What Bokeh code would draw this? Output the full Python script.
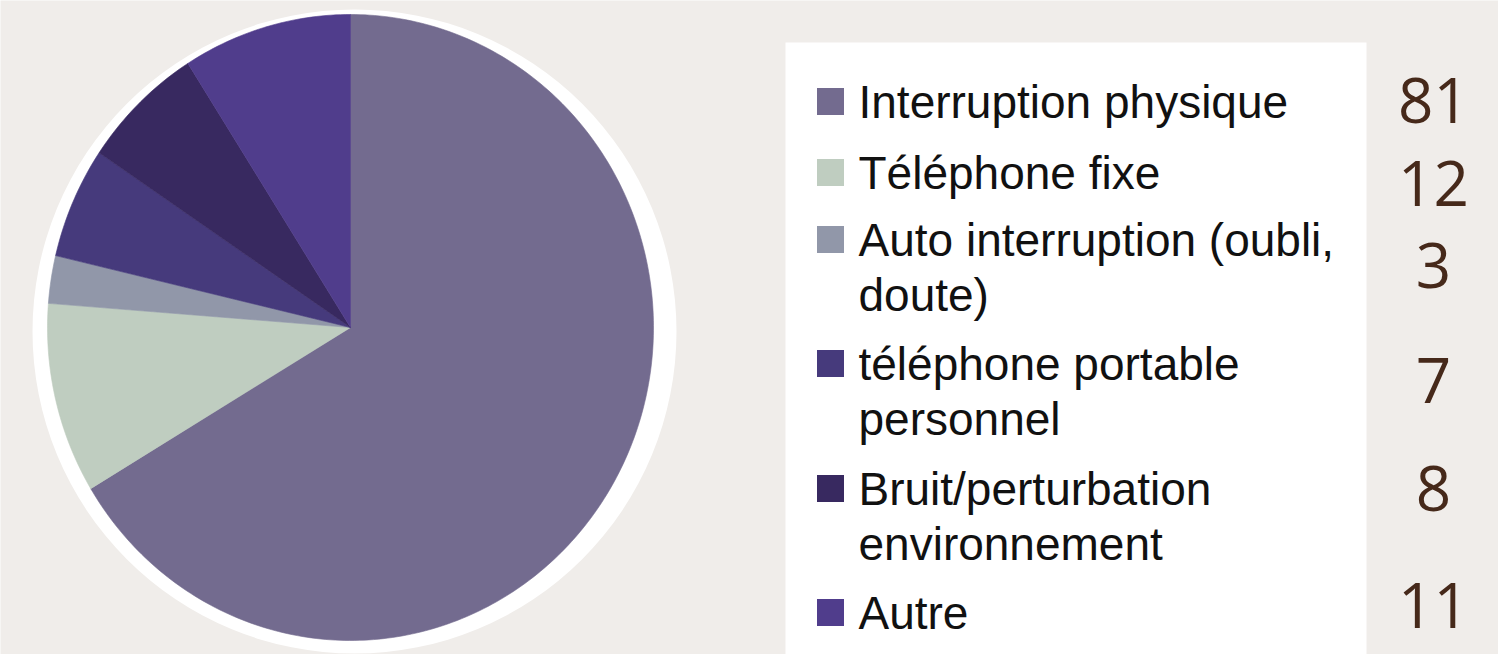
import numpy as np
from bokeh.plotting import figure
from bokeh.models import Range1d
from bokeh.core.properties import value
from bokeh.embed import file_html
from bokeh.resources import INLINE

# ---- data ----
categories = [
    "Interruption physique",
    "Téléphone fixe",
    "Auto interruption (oubli,\ndoute)",
    "téléphone portable\npersonnel",
    "Bruit/perturbation\nenvironnement",
    "Autre",
]
counts = [81, 12, 3, 7, 8, 11]
count_labels = ["81", "12", "3", "7", "8", "11"]
colors = ["#736b8f", "#bfcdc0", "#9197a9", "#463a7c", "#382960", "#503d8c"]

W, H = 1498, 654
BG = "#f0edea"

p = figure(width=W, height=H, output_backend="svg", toolbar_location=None,
           x_range=Range1d(0, W), y_range=Range1d(0, H),
           min_border=0, background_fill_color=BG, border_fill_color=BG)
p.axis.visible = False
p.grid.visible = False
p.outline_line_color = None

def Y(y_img):
    return H - y_img

# white halo behind pie
p.ellipse(x=[354], y=[Y(331)], width=644, height=644, fill_color="white", line_color=None)

# pie slices (slightly elliptical, as in the source), from 12 o'clock clockwise
cx, cy, rx, ry = 350, Y(327), 303, 313
vals = np.array(counts, dtype=float)
total = vals.sum()
cum_after = np.cumsum(vals) / total
cum_before = cum_after - vals / total
xs, ys = [], []
for a0, a1 in zip(cum_before, cum_after):
    t = np.linspace(np.pi / 2 - 2 * np.pi * a0, np.pi / 2 - 2 * np.pi * a1,
                    max(8, int((a1 - a0) * 400)))
    xs.append(np.concatenate([[cx], cx + rx * np.cos(t)]).tolist())
    ys.append(np.concatenate([[cy], cy + ry * np.sin(t)]).tolist())
p.patches(xs=xs, ys=ys, fill_color=colors, line_color=colors, line_width=0.6)

# legend white box
p.quad(left=[785], right=[1366], bottom=[0], top=[Y(42)], fill_color="white", line_color=None)

# legend rows (image y of first text line center)
row_y = [101, 172, 239, 363, 488, 612]
line_gap = 55
sq_x, sq_size = 830, 27
p.rect(x=[sq_x] * len(row_y), y=[Y(v) for v in row_y], width=sq_size, height=sq_size,
       fill_color=colors, line_color=None)

tx, ty, tt = [], [], []
for lab, yy in zip(categories, row_y):
    for i, line in enumerate(lab.split("\n")):
        tx.append(858)
        ty.append(Y(yy + i * line_gap))
        tt.append(line)
p.text(x=tx, y=ty, text=tt, text_font=value("Liberation Sans"), text_font_size="46px",
       text_color="#111111", text_baseline="middle", text_align="left")

# counts to the right
num_y = [100, 183, 265, 380, 488, 605]
p.text(x=[1433] * len(num_y), y=[Y(v) for v in num_y], text=count_labels,
       text_font=value("Open Sans"), text_font_size="62px", text_color="#46291a",
       text_baseline="middle", text_align="center")

open("out.html", "w").write(file_html(p, INLINE))
